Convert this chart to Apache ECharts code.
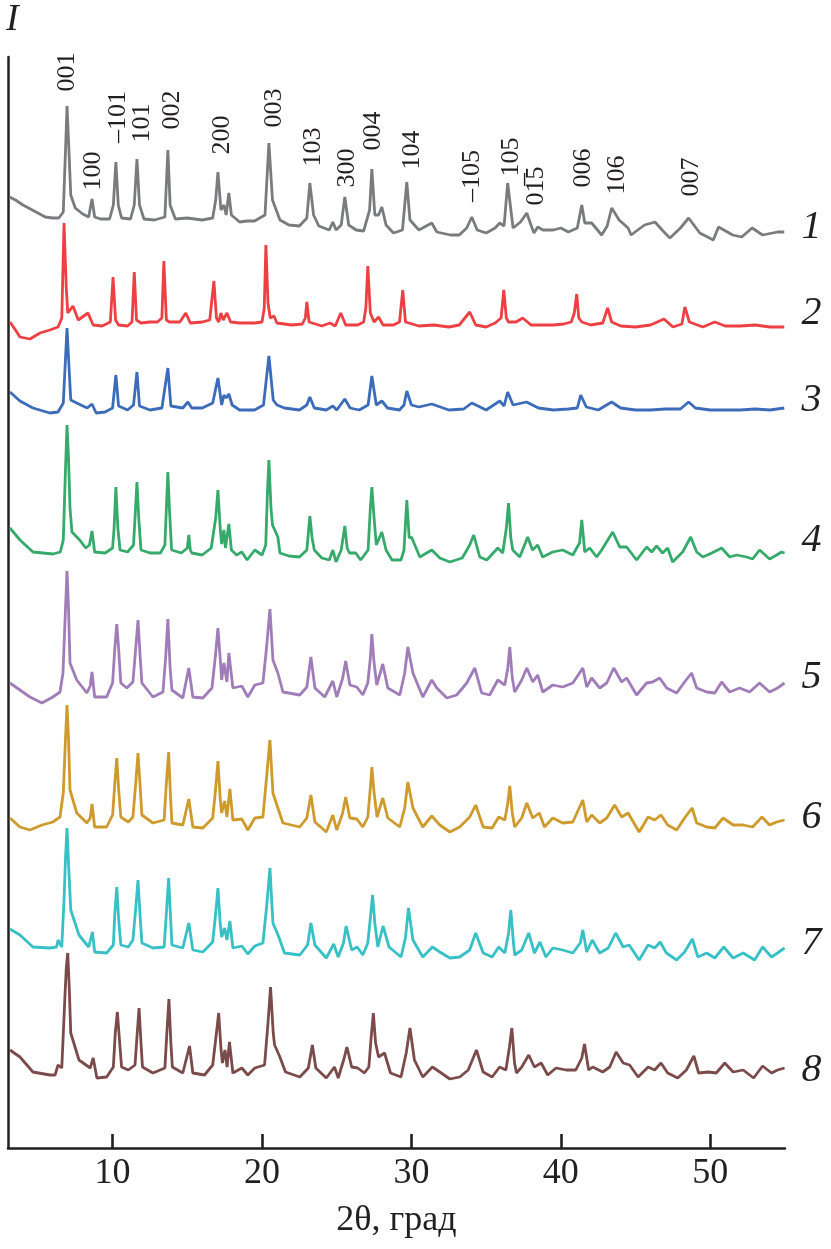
<!DOCTYPE html>
<html>
<head>
<meta charset="utf-8">
<script src="https://cdn.jsdelivr.net/npm/echarts@6/dist/echarts.min.js"></script>
<style>
html,body{margin:0;padding:0;background:#fff;}
#c{width:831px;height:1249px;}
</style>
</head>
<body>
<div id="c"></div>
<script>
// ---- data: [2θ (deg), intensity (arb. units, offset traces)] ----
const curve1 = [[3.1,951],[3.5,948],[4.0,943],[4.5,939],[5.0,935],[5.5,931],[6.0,930],[6.4,930],[6.7,936],[6.85,998],[6.95,1042],[7.05,1008],[7.2,953],[7.5,940],[8.0,934],[8.4,931],[8.62,949],[8.8,931],[9.2,929],[9.8,929],[10.05,943],[10.22,986],[10.38,943],[10.6,930],[11.2,929],[11.45,943],[11.63,989],[11.8,943],[12.1,929],[12.8,928],[13.5,931],[13.7,998],[13.85,943],[14.2,929],[15.0,930],[16.0,928],[16.7,930],[16.9,948],[17.05,976],[17.25,938],[17.45,943],[17.6,933],[17.78,955],[17.95,933],[18.5,926],[19.0,927],[19.5,927],[20.2,933],[20.46,1005],[20.7,948],[21.0,936],[21.2,928],[21.8,923],[22.5,922],[23.0,930],[23.2,965],[23.45,933],[23.8,922],[24.5,918],[24.74,926],[24.95,918],[25.3,923],[25.54,951],[25.8,923],[26.3,918],[26.8,917],[27.2,938],[27.35,979],[27.55,933],[27.8,933],[28.02,941],[28.3,923],[28.8,915],[29.4,918],[29.69,966],[29.9,928],[30.5,918],[31.36,925],[31.7,916],[32.6,913],[33.2,913],[33.7,920],[34.04,931],[34.4,918],[35.0,915],[35.6,920],[35.91,925],[36.2,922],[36.44,965],[36.8,920],[37.3,926],[37.72,935],[38.0,923],[38.2,915],[38.45,921],[38.8,918],[39.5,918],[40.0,920],[40.5,916],[41.1,920],[41.4,943],[41.6,925],[42.06,925],[42.73,913],[43.1,922],[43.4,940],[43.9,928],[44.5,920],[44.7,913],[45.6,923],[46.3,926],[46.9,916],[47.3,910],[48.0,920],[48.55,930],[49.3,915],[50.2,908],[50.55,921],[51.5,913],[52.1,911],[52.8,920],[53.5,913],[54.5,916],[54.95,916]];
const curve2 = [[3.13,826],[3.5,818],[3.8,811],[4.47,809],[5.14,815],[5.8,818],[6.35,821],[6.6,830],[6.75,925],[6.9,860],[7.0,835],[7.35,842],[7.7,828],[8.35,835],[8.7,823],[9.3,822],[9.85,826],[10.03,871],[10.2,828],[10.4,823],[11.0,822],[11.3,826],[11.45,876],[11.6,828],[11.9,825],[12.5,826],[13.0,826],[13.3,830],[13.43,887],[13.6,828],[13.8,826],[14.5,826],[14.9,835],[15.2,825],[16.0,826],[16.5,828],[16.78,867],[16.95,830],[17.1,826],[17.25,835],[17.4,828],[17.65,835],[17.9,826],[18.5,825],[19.5,825],[20.0,826],[20.15,840],[20.26,903],[20.4,845],[20.55,830],[20.8,832],[21.0,825],[22.0,823],[22.7,824],[22.9,830],[23.0,846],[23.15,826],[24.0,822],[24.54,825],[24.9,822],[25.27,835],[25.6,823],[26.4,823],[26.8,826],[26.95,840],[27.08,882],[27.25,835],[27.5,826],[27.8,831],[28.1,823],[28.8,823],[29.2,826],[29.42,858],[29.6,826],[30.5,822],[31.5,823],[32.5,821],[33.2,823],[33.9,836],[34.3,823],[35.0,821],[35.6,825],[36.0,830],[36.18,858],[36.35,830],[36.5,826],[37.0,826],[37.45,830],[38.0,823],[38.8,823],[39.5,823],[40.2,824],[40.7,826],[40.9,835],[41.06,854],[41.2,830],[41.4,826],[42.0,823],[42.8,825],[43.13,840],[43.4,826],[44.0,822],[45.0,821],[46.0,823],[46.9,829],[47.5,821],[48.1,824],[48.3,841],[48.6,826],[49.5,821],[50.3,826],[51.0,822],[52.0,822],[53.0,823],[54.0,821],[54.95,821]];
const curve3 = [[3.13,756],[3.8,747],[4.67,740],[5.8,735],[6.35,736],[6.7,745],[6.85,790],[6.95,820],[7.05,790],[7.2,748],[7.6,745],[8.3,740],[8.62,744],[8.9,735],[9.5,736],[10.0,740],[10.22,773],[10.4,742],[10.5,740],[11.0,738],[11.4,743],[11.63,776],[11.8,742],[11.9,740],[12.5,738],[13.3,740],[13.7,780],[13.9,742],[14.0,741],[14.7,740],[15.04,746],[15.3,740],[16.0,740],[16.7,745],[17.05,770],[17.3,743],[17.45,753],[17.6,750],[17.78,754],[18.0,743],[18.5,738],[19.5,738],[20.1,743],[20.46,792],[20.75,748],[21.0,743],[21.5,740],[22.5,738],[23.0,743],[23.2,751],[23.5,740],[24.3,738],[24.74,742],[25.0,738],[25.54,749],[25.9,740],[26.5,738],[27.1,743],[27.35,772],[27.65,743],[28.02,747],[28.4,740],[29.2,738],[29.5,743],[29.69,757],[30.0,743],[30.5,741],[31.36,744],[32.5,738],[33.5,739],[34.04,745],[35.0,738],[35.91,747],[36.2,742],[36.44,756],[36.8,743],[37.7,746],[38.5,740],[39.5,738],[40.5,739],[41.1,740],[41.33,753],[41.7,741],[42.5,738],[43.4,746],[44.0,740],[45.0,738],[46.0,738],[47.0,739],[48.0,739],[48.55,746],[49.0,740],[50.0,738],[51.0,738],[52.0,738],[53.0,739],[54.0,738],[54.95,740]];
const curve4 = [[3.13,620],[3.8,608],[4.67,596],[5.34,595],[6.0,594],[6.5,596],[6.7,608],[6.85,680],[6.95,723],[7.05,690],[7.15,640],[7.28,616],[7.8,608],[8.2,600],[8.45,603],[8.62,617],[8.8,596],[9.5,595],[10.0,600],[10.1,620],[10.22,661],[10.35,620],[10.5,598],[11.0,596],[11.4,603],[11.5,630],[11.63,666],[11.75,630],[11.9,598],[12.5,595],[13.2,595],[13.5,603],[13.6,640],[13.7,676],[13.8,640],[13.95,598],[14.6,595],[15.0,600],[15.1,613],[15.2,598],[15.3,595],[16.0,593],[16.6,600],[16.9,630],[17.05,658],[17.2,620],[17.3,604],[17.45,618],[17.55,600],[17.78,624],[17.95,598],[18.3,593],[18.65,596],[19.0,588],[19.52,598],[20.0,593],[20.25,603],[20.35,650],[20.46,688],[20.6,640],[20.7,623],[21.06,611],[21.2,595],[21.8,592],[22.5,591],[23.0,598],[23.2,632],[23.35,610],[23.5,598],[24.0,590],[24.5,588],[24.74,598],[24.95,586],[25.3,598],[25.54,622],[25.7,600],[25.85,595],[26.27,595],[26.6,588],[27.1,598],[27.25,640],[27.35,661],[27.5,630],[27.65,603],[28.02,616],[28.3,598],[28.7,588],[29.3,588],[29.5,598],[29.69,648],[29.85,610],[30.0,611],[30.56,591],[31.36,598],[31.9,590],[32.57,586],[33.4,590],[33.9,603],[34.17,613],[34.57,591],[35.04,588],[35.78,600],[36.11,595],[36.35,620],[36.5,645],[36.65,610],[36.78,598],[37.25,591],[37.78,611],[38.1,598],[38.45,603],[38.78,591],[39.45,596],[40.12,598],[40.8,593],[41.25,605],[41.4,628],[41.6,596],[41.93,600],[42.4,591],[42.73,598],[43.47,616],[43.94,601],[44.4,601],[45.07,588],[45.74,601],[46.08,596],[46.41,602],[46.81,595],[47.15,600],[47.48,586],[48.15,596],[48.69,611],[49.09,596],[49.5,591],[50.1,595],[50.76,600],[51.3,591],[51.76,593],[52.43,591],[52.83,589],[53.3,598],[53.97,589],[54.44,593],[54.77,596],[54.97,595]];
const curve5 = [[3.13,465],[3.8,458],[4.47,451],[5.27,445],[6.0,451],[6.48,456],[6.68,475],[6.85,540],[6.95,577],[7.05,540],[7.15,485],[7.6,468],[8.28,455],[8.5,462],[8.62,476],[8.8,451],[9.6,451],[10.0,465],[10.15,500],[10.28,524],[10.4,500],[10.55,465],[10.95,460],[11.36,466],[11.55,500],[11.7,528],[11.85,490],[11.96,465],[12.7,451],[13.37,456],[13.55,490],[13.7,529],[13.85,480],[13.97,458],[14.7,450],[15.1,480],[15.37,451],[16.04,450],[16.65,460],[16.9,495],[17.05,520],[17.2,490],[17.3,468],[17.45,485],[17.65,466],[17.78,495],[18.05,460],[18.65,462],[19.05,451],[19.52,463],[20.06,465],[20.3,500],[20.53,539],[20.73,488],[21.06,475],[21.4,456],[22.53,453],[23.0,461],[23.27,491],[23.54,460],[24.2,451],[24.74,467],[25.0,451],[25.4,470],[25.6,487],[25.88,463],[26.34,461],[26.75,453],[27.08,465],[27.25,490],[27.35,514],[27.5,485],[27.68,463],[28.08,484],[28.42,460],[29.22,453],[29.55,475],[29.76,501],[30.1,475],[30.76,451],[31.36,468],[31.7,460],[32.37,450],[33.03,453],[33.7,465],[34.24,480],[34.7,455],[35.24,453],[35.78,468],[36.25,463],[36.45,480],[36.58,501],[36.75,470],[36.91,456],[37.38,468],[37.72,480],[38.12,466],[38.45,473],[38.79,456],[39.46,463],[40.12,461],[40.8,465],[41.47,480],[41.73,461],[42.06,470],[42.6,460],[43.07,465],[43.54,480],[44.07,466],[44.4,470],[45.07,453],[45.74,465],[46.14,466],[46.61,470],[47.08,460],[47.75,455],[48.28,466],[48.75,475],[49.09,460],[49.76,456],[50.3,455],[50.76,466],[51.3,456],[51.96,460],[52.63,456],[53.3,465],[53.97,456],[54.5,460],[54.97,465]];
const curve6 = [[3.13,330],[3.8,321],[4.47,318],[5.27,323],[6.0,326],[6.48,331],[6.7,355],[6.85,410],[6.95,443],[7.05,410],[7.15,358],[7.6,335],[8.28,325],[8.5,330],[8.62,344],[8.8,321],[9.6,321],[10.0,333],[10.15,365],[10.28,390],[10.4,360],[10.55,331],[11.05,326],[11.36,331],[11.55,365],[11.7,395],[11.85,360],[11.96,333],[12.7,325],[13.45,328],[13.6,365],[13.75,396],[13.88,350],[13.97,325],[14.7,323],[15.1,349],[15.37,321],[16.04,320],[16.7,330],[16.9,360],[17.05,387],[17.2,350],[17.3,335],[17.5,347],[17.65,331],[17.85,359],[18.05,328],[18.65,329],[19.05,318],[19.52,330],[20.06,331],[20.3,370],[20.53,408],[20.73,355],[21.06,340],[21.4,325],[22.53,321],[23.0,330],[23.27,353],[23.54,326],[24.3,316],[24.74,333],[25.0,318],[25.4,335],[25.6,351],[25.88,330],[26.34,329],[26.75,321],[27.08,331],[27.25,360],[27.35,381],[27.5,355],[27.7,331],[28.08,350],[28.42,330],[29.22,321],[29.55,340],[29.76,366],[30.1,340],[30.76,321],[31.36,332],[31.9,323],[32.57,316],[33.23,321],[33.9,331],[34.3,343],[34.8,321],[35.4,320],[35.84,331],[36.25,328],[36.45,345],[36.58,362],[36.75,335],[36.91,321],[37.38,330],[37.72,345],[38.12,330],[38.56,335],[38.9,321],[39.46,330],[40.12,325],[40.8,326],[41.47,348],[41.73,326],[42.06,333],[42.6,325],[43.07,330],[43.6,343],[44.07,331],[44.5,335],[45.24,316],[45.84,331],[46.28,328],[46.7,333],[47.15,323],[47.75,318],[48.28,330],[48.78,340],[49.09,325],[49.76,321],[50.3,320],[50.86,330],[51.53,323],[52.2,323],[52.83,321],[53.46,331],[53.97,323],[54.44,326],[54.97,328]];
const curve7 = [[3.13,219],[3.8,213],[4.67,201],[5.8,200],[6.25,201],[6.35,208],[6.6,201],[6.75,248],[6.85,290],[6.95,320],[7.05,285],[7.2,238],[7.75,213],[8.4,201],[8.65,216],[8.8,196],[9.6,195],[10.05,203],[10.15,235],[10.28,261],[10.4,230],[10.55,203],[11.05,201],[11.36,208],[11.55,240],[11.7,268],[11.85,230],[11.96,205],[12.7,200],[13.45,201],[13.6,235],[13.75,270],[13.88,230],[13.97,203],[14.7,200],[15.1,225],[15.37,198],[16.04,196],[16.7,206],[16.9,235],[17.05,260],[17.2,225],[17.3,211],[17.5,220],[17.65,208],[17.85,227],[18.05,200],[18.65,202],[19.05,194],[19.52,202],[20.06,205],[20.3,240],[20.53,280],[20.73,225],[21.1,212],[21.5,195],[22.53,193],[23.05,203],[23.27,225],[23.54,203],[24.3,190],[24.8,204],[25.1,191],[25.45,205],[25.63,222],[26.0,198],[26.37,201],[26.75,193],[27.08,205],[27.25,230],[27.4,253],[27.55,225],[27.75,201],[28.1,222],[28.5,201],[29.3,191],[29.6,210],[29.8,240],[30.1,208],[30.76,191],[31.4,201],[31.9,196],[32.57,190],[33.23,191],[33.9,198],[34.3,215],[34.8,195],[35.4,191],[35.84,201],[36.25,195],[36.5,215],[36.65,238],[36.8,210],[36.91,193],[37.38,198],[37.85,215],[38.23,195],[38.6,206],[39.0,191],[39.46,200],[40.12,198],[40.8,195],[41.3,205],[41.47,218],[41.73,196],[42.1,208],[42.6,195],[43.17,200],[43.67,215],[44.17,201],[44.57,203],[45.24,188],[45.84,203],[46.28,200],[46.65,206],[47.06,195],[47.75,188],[48.28,196],[48.8,209],[49.17,191],[49.76,195],[50.3,190],[50.9,201],[51.53,190],[52.2,195],[52.97,188],[53.5,201],[54.1,191],[54.5,195],[54.97,200]];
const curve8 = [[3.13,98],[3.8,91],[4.67,76],[5.8,73],[6.15,73],[6.35,83],[6.6,80],[6.8,148],[6.9,180],[7.0,195],[7.1,160],[7.2,115],[7.75,88],[8.5,80],[8.7,90],[8.95,70],[9.6,71],[10.05,81],[10.18,115],[10.32,136],[10.45,110],[10.6,81],[11.05,78],[11.5,83],[11.65,115],[11.77,140],[11.9,105],[12.0,81],[12.7,75],[13.5,80],[13.65,120],[13.77,149],[13.9,105],[14.0,81],[14.7,75],[15.15,102],[15.37,75],[16.15,73],[16.7,83],[16.95,115],[17.1,135],[17.25,100],[17.35,85],[17.52,98],[17.66,81],[17.82,106],[18.05,75],[18.65,80],[19.05,73],[19.52,80],[20.17,83],[20.4,125],[20.57,161],[20.75,115],[20.84,103],[21.17,92],[21.57,76],[22.53,71],[23.1,80],[23.37,103],[23.6,80],[24.3,70],[24.85,81],[25.1,70],[25.5,90],[25.68,101],[26.0,81],[26.4,80],[26.85,75],[27.15,81],[27.3,110],[27.45,135],[27.6,105],[27.8,91],[28.2,95],[28.6,75],[29.3,71],[29.65,95],[29.9,120],[30.2,88],[30.76,71],[31.4,81],[31.9,76],[32.57,69],[33.23,71],[33.8,78],[34.35,98],[34.8,76],[35.4,71],[35.9,81],[36.32,78],[36.55,100],[36.72,120],[36.9,85],[37.03,75],[37.38,81],[37.85,93],[38.23,81],[38.68,85],[39.12,73],[39.68,80],[40.35,78],[41.0,78],[41.4,90],[41.58,104],[41.86,78],[42.13,81],[42.8,76],[43.27,81],[43.7,96],[44.17,85],[44.6,83],[45.17,71],[45.84,81],[46.28,78],[46.7,85],[47.15,75],[47.82,70],[48.4,78],[48.9,92],[49.22,75],[49.85,76],[50.4,75],[50.97,85],[51.53,76],[52.2,78],[52.9,70],[53.5,82],[54.1,75],[54.5,78],[54.97,80]];

// peak (hkl) annotations for trace 1: [2θ, intensity, text]
const peakLabelX = [6.95, 8.69, 10.36, 11.96, 13.97, 17.31, 20.79, 23.4, 25.68, 27.41, 30.02, 34.04, 36.65, 38.32, 41.46, 43.74, 48.75];
const peakLabelY = [1076, 977, 1031, 1025, 1038, 1013, 1040, 1001, 980, 1017, 998, 972, 991, 962, 980, 973, 971];
const peakLabelText = ['001','100','\u2013101','101','002','200','003','103','300','004','104','\u2013105','105','01\u03055','006','106','007'];

// trace numbers at right end
const traceNames = ['1','2','3','4','5','6','7','8'];
const traceLabelX = 56.78;
const traceLabelY = [921, 835, 748, 608, 471, 331, 205, 78];

const xTicks = [10, 20, 30, 40, 50];
const xLabel = '2\u03b8, \u0433\u0440\u0430\u0434';
const yLabel = 'I';

// ---- styles ----
const colors = ['#7a7b7e','#ee3f43','#3c6cb9','#36aa6a','#a07db8','#cf9a2c','#37c0c5','#7b4a4a'];
const serif = '"Liberation Serif","DejaVu Serif","Times New Roman",serif';
const ink = '#231f20';

const curves = [curve1, curve2, curve3, curve4, curve5, curve6, curve7, curve8];
const series = curves.map((d, i) => ({
  type: 'line', data: d, showSymbol: false, symbol: 'none',
  lineStyle: { color: colors[i], width: 2.8 }, itemStyle: { color: colors[i] },
  animation: false, z: 2
}));

series.push({
  type: 'scatter', symbolSize: 0, clip: false, animation: false, silent: true,
  itemStyle: { opacity: 1 },
  data: peakLabelX.map((x, i) => ({ value: [x, peakLabelY[i]], name: peakLabelText[i] })),
  label: { show: true, position: 'inside', rotate: 90, align: 'center', verticalAlign: 'middle', opacity: 1,
    formatter: p => p.name, color: ink, fontFamily: serif, fontSize: 26 }
});
series.push({
  type: 'scatter', symbolSize: 0, clip: false, animation: false, silent: true,
  itemStyle: { opacity: 1 },
  data: traceNames.map((t, i) => ({ value: [traceLabelX, traceLabelY[i]], name: t })),
  label: { show: true, position: 'inside', align: 'center', verticalAlign: 'middle', opacity: 1,
    formatter: p => p.name, color: ink, fontFamily: serif, fontSize: 40, fontStyle: 'italic' }
});

const chart = echarts.init(document.getElementById('c'), null, { renderer: 'canvas' });
chart.setOption({
  backgroundColor: '#fff',
  animation: false,
  grid: { left: 8, right: 46, top: 57, bottom: 101, containLabel: false },
  xAxis: {
    type: 'value', min: 3, max: 55,
    name: xLabel, nameLocation: 'middle', nameGap: 55,
    nameTextStyle: { color: ink, fontFamily: serif, fontSize: 36 },
    axisLine: { show: true, onZero: false, lineStyle: { color: ink, width: 2.5 } },
    axisTick: { show: true, inside: true, length: 14, customValues: xTicks, lineStyle: { color: ink, width: 2.6 } },
    axisLabel: { show: true, customValues: xTicks, margin: 8, color: ink, fontFamily: serif, fontSize: 36 },
    splitLine: { show: false }
  },
  yAxis: {
    type: 'value', min: 0, max: 1091,
    name: yLabel, nameLocation: 'end', nameGap: 18,
    nameTextStyle: { color: ink, fontFamily: serif, fontSize: 38, fontStyle: 'italic', align: 'left', padding: [0,0,0,-2] },
    axisLine: { show: true, onZero: false, lineStyle: { color: ink, width: 2.5 } },
    axisTick: { show: false }, axisLabel: { show: false }, splitLine: { show: false }
  },
  series: series
});
</script>
</body>
</html>
